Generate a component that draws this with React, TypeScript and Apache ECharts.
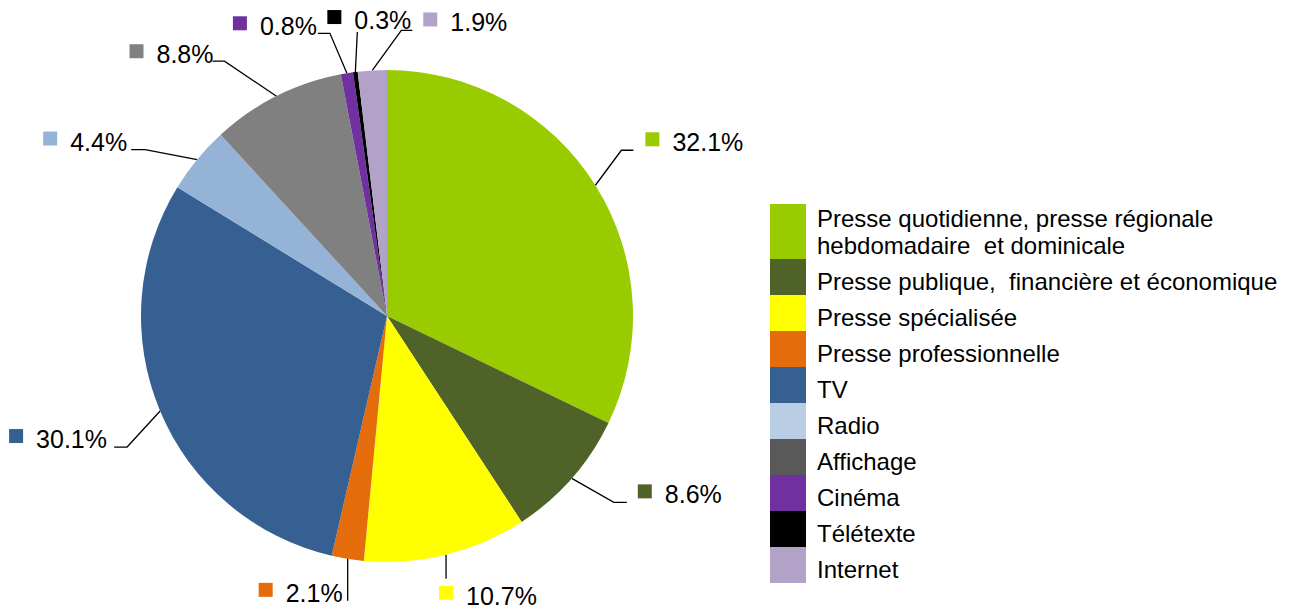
import React, { useEffect, useRef } from 'react';
import * as echarts from 'echarts';

const categories = [
  'Presse quotidienne, presse régionale\nhebdomadaire  et dominicale',
  'Presse publique,  financière et économique',
  'Presse spécialisée',
  'Presse professionnelle',
  'TV',
  'Radio',
  'Affichage',
  'Cinéma',
  'Télétexte',
  'Internet',
];
const shares = [32.1, 8.6, 10.7, 2.1, 30.1, 4.4, 8.8, 0.8, 0.3, 1.9];
const sliceColors = ['#99CC00', '#4F6228', '#FFFF00', '#E46C0A', '#376092', '#95B3D7', '#808080', '#7030A0', '#000000', '#B3A2C7'];
const legendColors = ['#99CC00', '#4F6228', '#FFFF00', '#E46C0A', '#376092', '#B9CDE5', '#595959', '#7030A0', '#000000', '#B3A2C7'];

// label placement relative to each slice's edge anchor: [elbowDx, elbowDy, endDx, labelDx, labelDy]
const labelOffsets = [
  [26, -35, 38, 50, -43],
  [42, 24, 55, 66, 16],
  [0, 24, 0, -7, 41],
  [0, 42, 0, -89, 34],
  [-33, 36, -46, -151, 28],
  [-52, -10, -66, -154, -18],
  [-52, -35, -64, -147, -42],
  [-17, -40, -29, -114, -47],
  [2, -40, 2, -28, -52],
  [29, -40, 40, 51, -48],
];

const FONT = 'Arial, "Liberation Sans", sans-serif';

export default function App() {
  const ref = useRef<HTMLDivElement>(null);
  useEffect(() => {
    if (!ref.current) return;
    const chart = echarts.init(ref.current, null, { renderer: 'svg' });

    const rich: Record<string, any> = {
      t: { fontSize: 25, fontFamily: FONT, color: '#000', padding: [0, 0, 0, 13], lineHeight: 20 },
    };
    sliceColors.forEach((c, i) => {
      rich['m' + i] = { width: 14, height: 14, backgroundColor: c, verticalAlign: 'top' };
    });

    const graphics: any[] = [];
    let y = 204;
    categories.forEach((c, i) => {
      const multi = c.includes('\n');
      const h = multi ? 55 : 36;
      graphics.push({
        type: 'rect',
        shape: { x: 770, y, width: 36, height: h },
        style: { fill: legendColors[i] },
      });
      graphics.push({
        type: 'text',
        x: 817,
        y: y + h / 2 + (multi ? 0.5 : 4.5),
        style: {
          text: c,
          fontSize: 24,
          fontFamily: FONT,
          fill: '#000',
          align: 'left',
          verticalAlign: 'middle',
          lineHeight: 27,
        },
      });
      y += h;
    });

    chart.setOption({
      animation: false,
      backgroundColor: '#fff',
      graphic: { elements: graphics },
      series: [
        {
          type: 'pie',
          center: [387, 316],
          radius: 246,
          startAngle: 90,
          clockwise: true,
          avoidLabelOverlap: false,
          emphasis: { disabled: true },
          data: categories.map((name, i) => ({
            name,
            value: shares[i],
            itemStyle: { color: sliceColors[i] },
          })),
          label: {
            show: true,
            position: 'outside',
            formatter: (p: any) => `{m${p.dataIndex}|}{t|${Number(p.value).toFixed(1)}%}`,
            rich,
          },
          labelLine: {
            show: true,
            length: 20,
            length2: 15,
            lineStyle: { color: '#000', width: 1.3 },
          },
          labelLayout: (p: any) => {
            const i = p.dataIndex;
            const a = p.labelLinePoints ? p.labelLinePoints[0] : [0, 0];
            const o = labelOffsets[i];
            const elbow = [a[0] + o[0], a[1] + o[1]];
            const end = [a[0] + o[2], a[1] + o[1]];
            return {
              x: a[0] + o[3],
              y: a[1] + o[4],
              align: 'left',
              verticalAlign: 'middle',
              labelLinePoints: [[a[0], a[1]], elbow, end],
            };
          },
        },
      ],
    });
    return () => chart.dispose();
  }, []);
  return (
    <div
      ref={ref}
      style={{ position: 'fixed', left: 0, top: 0, width: 1292, height: 609, background: '#fff' }}
    />
  );
}
